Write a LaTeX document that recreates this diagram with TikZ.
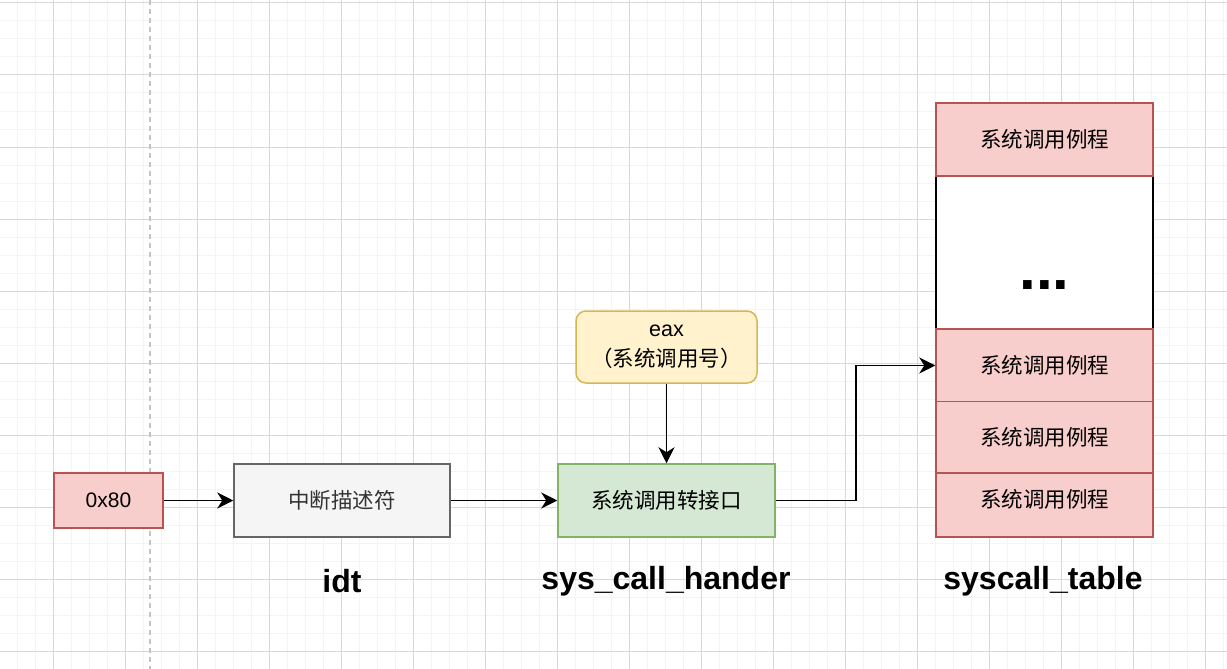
\documentclass[tikz,border=0pt]{standalone}
\usepackage{fontspec}
\setmainfont{Liberation Sans}
\newfontfamily\cjk{Noto Sans CJK SC}
\usetikzlibrary{arrows.meta}
\definecolor{pinkfill}{HTML}{F8CECC}
\definecolor{pinkline}{HTML}{B85450}
\definecolor{grayfill}{HTML}{F5F5F5}
\definecolor{grayline}{HTML}{666666}
\definecolor{graytext}{HTML}{333333}
\definecolor{greenfill}{HTML}{D5E8D4}
\definecolor{greenline}{HTML}{82B366}
\definecolor{yellowfill}{HTML}{FFF2CC}
\definecolor{yellowline}{HTML}{D6B656}
\definecolor{gridmajor}{HTML}{D8D8D8}
\definecolor{gridminor}{HTML}{F4F4F4}
\definecolor{dashline}{HTML}{C4C4C4}
\tikzset{
  box/.style={draw, line width=1.5pt, minimum width=#1, inner sep=0pt, font=\fontsize{21.5}{25}\selectfont\cjk},
  pinkbox/.style={box=217pt, fill=pinkfill, draw=pinkline},
  arr/.style={line width=1.5pt, -{Stealth[length=16pt,width=16pt,inset=5pt]}},
  title/.style={font=\fontsize{32}{36}\selectfont\bfseries},
}
\begin{document}
\begin{tikzpicture}[x=1pt,y=-1pt]
\useasboundingbox (0,0) rectangle (1227,669);
\fill[white] (0,0) rectangle (1227,669);
% grid
\foreach \x in {17,35,...,1227} \draw[gridminor, line width=1pt] (\x,0) -- (\x,669);
\foreach \y in {3,21,...,669} \draw[gridminor, line width=1pt] (0,\y) -- (1227,\y);
\foreach \x in {53,125,...,1227} \draw[gridmajor, line width=1pt] (\x,0) -- (\x,669);
\foreach \y in {3,75,...,669} \draw[gridmajor, line width=1pt] (0,\y) -- (1227,\y);
\draw[dashline, line width=1.5pt, dash pattern=on 5pt off 4pt] (150,0) -- (150,669);

% nodes
\node[box=109pt, minimum height=55pt, fill=pinkfill, draw=pinkline, font=\fontsize{21}{25}\selectfont] (hex) at (108.5,500.5) {0x80};
\node[box=216pt, minimum height=73pt, fill=grayfill, draw=grayline, text=graytext] (idt) at (342,500.5) {中断描述符};
\node[box=217pt, minimum height=73pt, fill=greenfill, draw=greenline] (handler) at (666.5,500.5) {系统调用转接口};
\node[box=181pt, minimum height=72pt, fill=yellowfill, draw=yellowline, rounded corners=10pt, align=center, font=\fontsize{21.5}{30}\selectfont\cjk] (eax) at (666.5,347) {\fontspec{Liberation Sans}eax\\（系统调用号）};

% table
\node[box=217pt, minimum height=153pt, fill=white, draw=black] (tdots) at (1044.5,252.5) {};
\node[font=\fontsize{60}{62}\selectfont\bfseries, anchor=base] (dots) at (1044.5,289) {...};
\node[pinkbox, minimum height=73pt] (t1) at (1044.5,139.5) {系统调用例程};
\node[pinkbox, minimum height=73pt] (t2) at (1044.5,365.5) {系统调用例程};
\node[pinkbox, minimum height=72pt] (t3) at (1044.5,437.5) {系统调用例程};
\node[pinkbox, minimum height=64pt, label={[font=\fontsize{21.5}{25}\selectfont\cjk, yshift=6pt]center:系统调用例程}] (t4) at (1044.5,505) {};

% labels
\node[title] (lidt) at (342,581) {idt};
\node[title] (lhandler) at (666,581) {sys\_call\_hander};
\node[title] (ltable) at (1043,581) {syscall\_table};

% connectors
\draw[arr] (hex.east) -- (idt.west);
\draw[arr] (idt.east) -- (handler.west);
\draw[arr] (eax.south) -- (handler.north);
\draw[arr] (handler.east) -- ++(80,0) |- (t2.west);
\end{tikzpicture}
\end{document}
